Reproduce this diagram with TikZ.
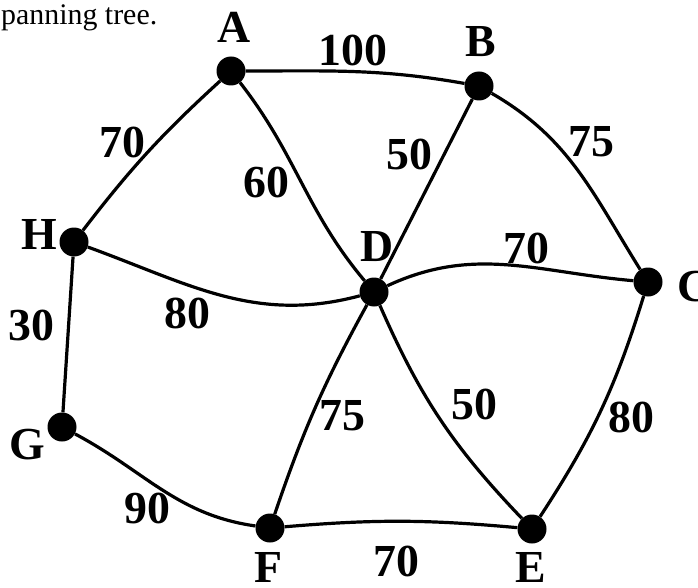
\documentclass[tikz,border=0pt]{standalone}
\usepackage{fontspec}
\setmainfont{Liberation Serif}

\begin{document}
\begin{tikzpicture}[x=1bp,y=1bp,
    vtx/.style={circle,fill=black,minimum size=29bp,inner sep=0pt},
    edge/.style={line width=3.2bp},
    lbl/.style={font=\fontsize{46}{48}\selectfont\bfseries,inner sep=0pt}]
    \useasboundingbox (0,0) rectangle (698,-588);

    % vertices
    \node[vtx] (A) at (231,-71) {};
    \node[vtx] (B) at (479,-86) {};
    \node[vtx] (C) at (648,-282) {};
    \node[vtx] (D) at (374,-292) {};
    \node[vtx] (E) at (532,-529) {};
    \node[vtx] (F) at (270,-528) {};
    \node[vtx] (G) at (62,-427) {};
    \node[vtx] (H) at (74,-242) {};

    % edges
    \draw[edge] (A) to[out=0,in=170] (B);
    \draw[edge] (A) to[bend right=5] (H);
    \draw[edge] (A) to[out=-52,in=130] (D);
    \draw[edge] (B) -- (D);
    \draw[edge] (B) to[out=-30,in=122] (C);
    \draw[edge] (H) to[out=-20,in=195] (D);
    \draw[edge] (D) to[out=25,in=175] (C);
    \draw[edge] (H) -- (G);
    \draw[edge] (G) to[out=-28,in=172] (F);
    \draw[edge] (F) to[bend left=5] (E);
    \draw[edge] (D) to[bend right=5] (F);
    \draw[edge] (D) to[bend right=10] (E);
    \draw[edge] (C) to[bend left=8] (E);

    % vertex names
    \node[lbl] (nA) at (234,-27) {A};
    \node[lbl,anchor=west] (nC) at (677,-287) {C};
    \node[lbl] (nB) at (481,-42) {B};
    \node[lbl] (nD) at (377,-247) {D};
    \node[lbl] (nE) at (531,-567) {E};
    \node[lbl] (nF) at (268,-567) {F};
    \node[lbl] (nG) at (27,-445) {G};
    \node[lbl] (nH) at (39,-234) {H};

    % weights
    \node[lbl] (wAB) at (353,-50) {100};
    \node[lbl] (wAH) at (122,-142) {70};
    \node[lbl] (wAD) at (266,-182) {60};
    \node[lbl] (wBD) at (409,-154) {50};
    \node[lbl] (wBC) at (591,-142) {75};
    \node[lbl] (wDC) at (526,-248) {70};
    \node[lbl] (wHD) at (187,-313) {80};
    \node[lbl] (wHG) at (31,-325) {30};
    \node[lbl] (wDF) at (342,-416) {75};
    \node[lbl] (wDE) at (474,-404) {50};
    \node[lbl] (wCE) at (631,-417) {80};
    \node[lbl] (wGF) at (147,-508) {90};
    \node[lbl] (wFE) at (396,-561) {70};

    \node[font=\fontsize{30}{32}\selectfont,inner sep=0pt,anchor=base west]
        (cap) at (1,-25) {panning tree.};
\end{tikzpicture}
\end{document}
